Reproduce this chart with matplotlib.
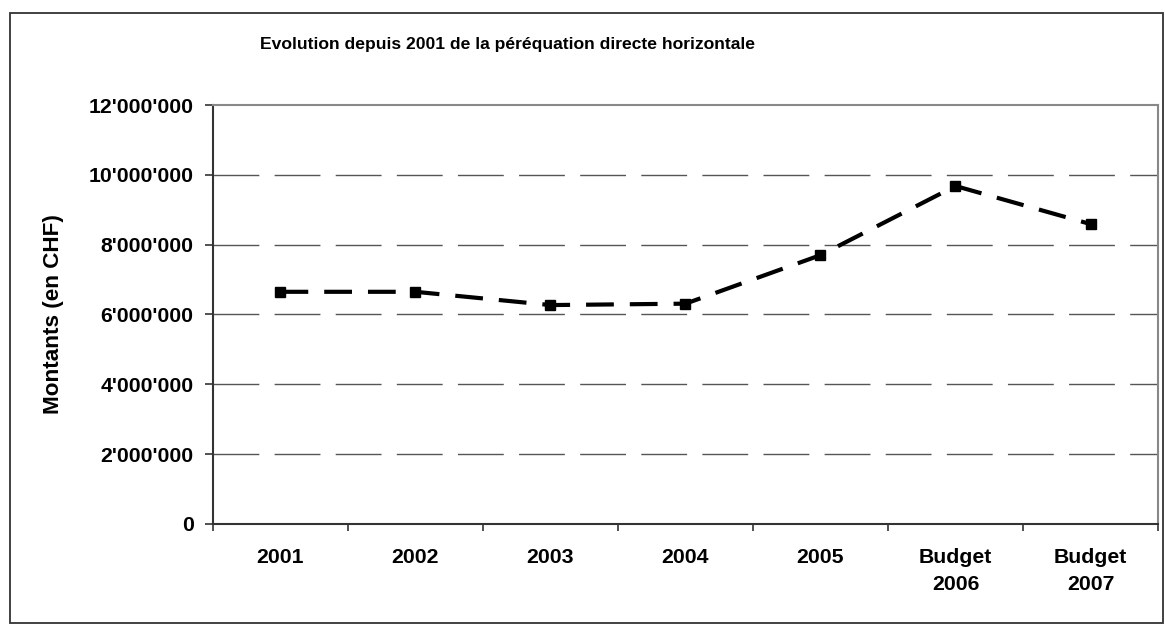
import matplotlib.pyplot as plt
import numpy as np
from matplotlib.patches import Rectangle
from matplotlib.ticker import FuncFormatter

plt.rcParams['font.family'] = ['Liberation Sans', 'DejaVu Sans']
plt.rcParams['lines.scale_dashes'] = False

categories = ['2001', '2002', '2003', '2004', '2005', 'Budget\n2006', 'Budget\n2007']
montants = [6650000, 6650000, 6270000, 6310000, 7700000, 9680000, 8590000]
yticks = [0, 2000000, 4000000, 6000000, 8000000, 10000000, 12000000]

fig = plt.figure(figsize=(11.65, 6.24), dpi=100)
ax = fig.add_axes([0.1828, 0.1603, 0.994 - 0.1828, 0.8317 - 0.1603])

# outer chart frame
fig.patches.append(Rectangle((10 / 1165, 0.002), 1153 / 1165, 1 - 13 / 624 - 0.002,
                             transform=fig.transFigure, fill=False,
                             edgecolor='#333333', linewidth=1.3))

x = np.arange(len(categories))

for v in yticks[1:-1]:
    ax.axhline(v, color='#555555', linewidth=1, dashes=(33, 11), zorder=1)

ax.plot(x, montants, color='black', linewidth=3, dashes=(20, 11.5),
        marker='s', markersize=7.5, zorder=3)

ax.set_xlim(-0.5, len(categories) - 0.5)
ax.set_ylim(0, 12000000)
ax.set_yticks(yticks)
ax.yaxis.set_major_formatter(FuncFormatter(lambda v, p: f"{int(v):,}".replace(',', "'")))

ax.set_xticks(np.arange(-0.5, len(categories), 1.0))
ax.set_xticklabels([])
ax.set_xticks(x, minor=True)
ax.set_xticklabels(categories, minor=True, fontsize=15.3, fontweight='bold',
                   linespacing=1.55)
ax.tick_params(axis='x', which='minor', length=0, pad=17)
ax.tick_params(axis='x', which='major', length=5, width=1.2, color='#333333', direction='out')
ax.tick_params(axis='y', length=6, width=1.2, color='#333333', direction='out',
               labelsize=15.3, pad=8)
for lbl in ax.get_yticklabels():
    lbl.set_fontweight('bold')

for s in ['left', 'bottom']:
    ax.spines[s].set_color('#333333')
    ax.spines[s].set_linewidth(1.5)
for s in ['top', 'right']:
    ax.spines[s].set_color('#888888')
    ax.spines[s].set_linewidth(1.5)

ax.set_ylabel('Montants (en CHF)', fontsize=16.2, fontweight='bold')
ax.yaxis.set_label_coords(-(213 - 64) / 945, 0.5)

fig.text(507 / 1165, 1 - 45 / 624, 'Evolution depuis 2001 de la péréquation directe horizontale',
         ha='center', va='center', fontsize=12.6, fontweight='bold')

fig.savefig('out.png', dpi=100)
